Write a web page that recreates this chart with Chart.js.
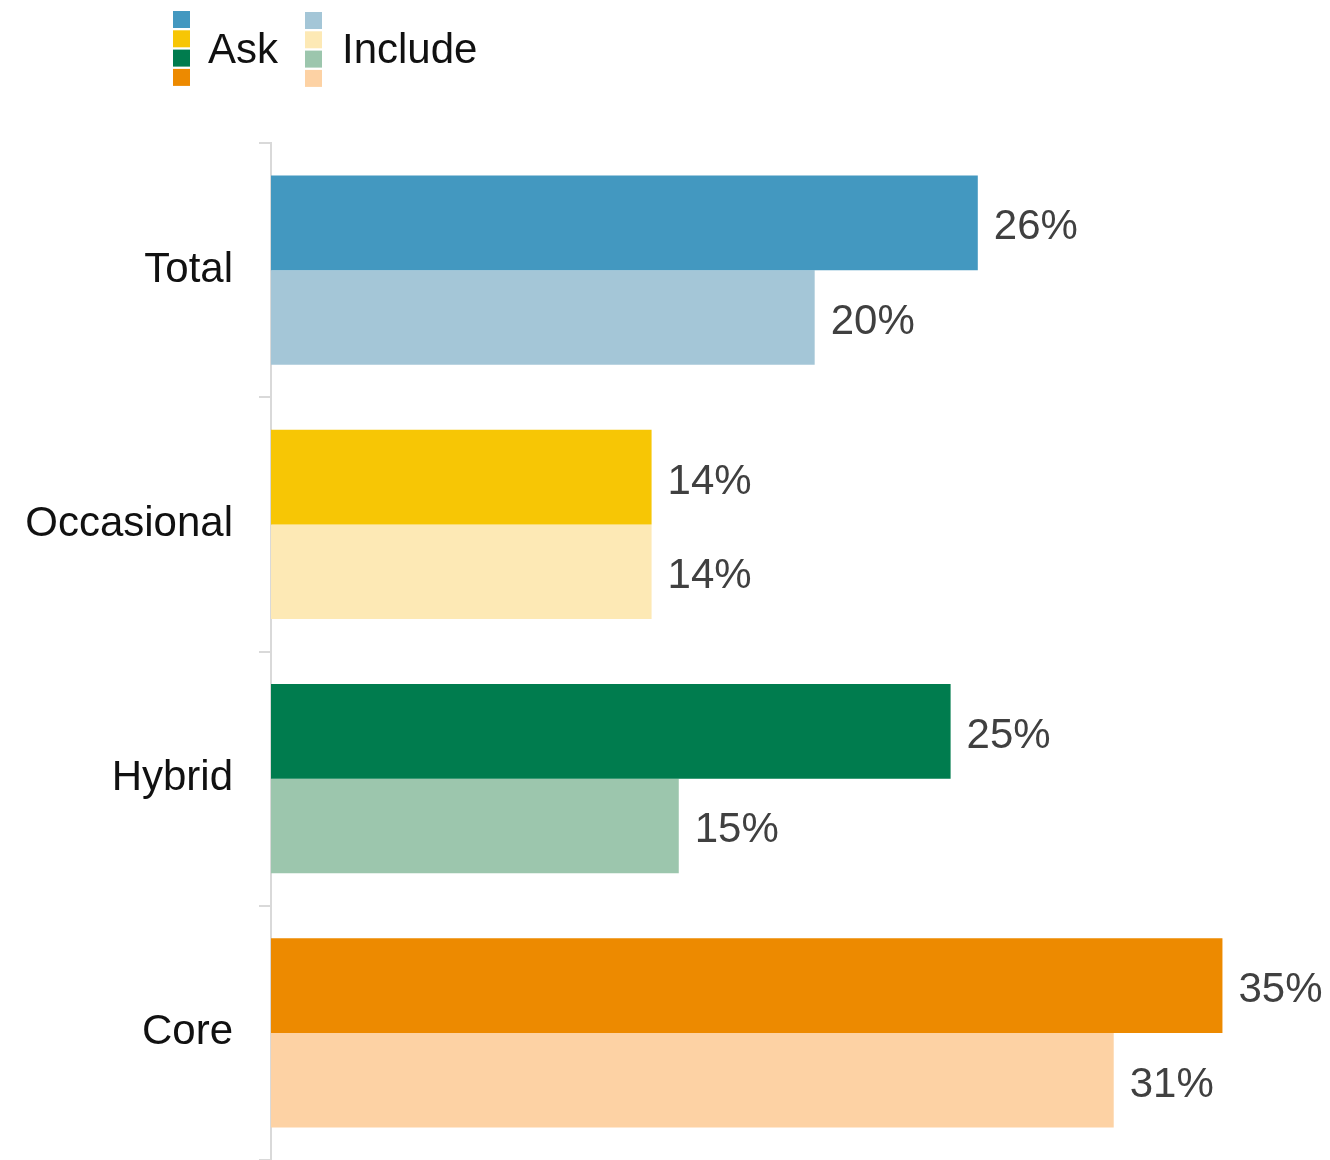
<!DOCTYPE html>
<html>
<head>
<meta charset="utf-8">
<script src="https://cdn.jsdelivr.net/npm/chart.js@4.4.0/dist/chart.umd.min.js"></script>
<style>
  html, body { margin: 0; padding: 0; background: #fff; }
  canvas { display: block; }
</style>
</head>
<body>
<canvas id="chart" width="1330" height="1160"></canvas>
<script>
// Segments and shares per question
const categories = ['Total', 'Occasional', 'Hybrid', 'Core'];
const askValues = [26, 14, 25, 35];
const includeValues = [20, 14, 15, 31];
const seriesNames = ['Ask', 'Include'];

// One colour per segment, darker for Ask, pale for Include
const askColors = ['#4398c0', '#f7c605', '#007c4e', '#ed8a00'];
const includeColors = ['#a4c6d7', '#fde9b5', '#9cc6ad', '#fdd2a4'];

const FONT = '"Liberation Sans", Arial, sans-serif';

// Labels at the end of each bar
const valueLabels = {
    id: 'valueLabels',
    afterDatasetsDraw(chart) {
        const ctx = chart.ctx;
        ctx.save();
        ctx.font = '42px ' + FONT;
        ctx.fillStyle = '#404040';
        ctx.textAlign = 'left';
        ctx.textBaseline = 'middle';
        chart.data.datasets.forEach((ds, di) => {
            chart.getDatasetMeta(di).data.forEach((bar, i) => {
                ctx.fillText(ds.data[i] + '%', bar.x + 16, bar.y + 5);
            });
        });
        ctx.restore();
    }
};

// Legend: a column of swatches per series followed by its name
const stackedLegend = {
    id: 'stackedLegend',
    afterDraw(chart) {
        const ctx = chart.ctx;
        const groups = [
            { x: 173, y: 11, colors: askColors, text: seriesNames[0], tx: 208 },
            { x: 305, y: 12, colors: includeColors, text: seriesNames[1], tx: 342 }
        ];
        ctx.save();
        groups.forEach(g => {
            g.colors.forEach((c, i) => {
                ctx.fillStyle = c;
                ctx.fillRect(g.x, g.y + i * 19.3, 17, 17);
            });
            ctx.font = '42px ' + FONT;
            ctx.fillStyle = '#111';
            ctx.textBaseline = 'middle';
            ctx.fillText(g.text, g.tx, 51);
        });
        ctx.restore();
    }
};

new Chart(document.getElementById('chart'), {
    type: 'bar',
    data: {
        labels: categories,
        datasets: [{
            label: seriesNames[0],
            data: askValues,
            backgroundColor: askColors
        }, {
            label: seriesNames[1],
            data: includeValues,
            backgroundColor: includeColors
        }]
    },
    options: {
        indexAxis: 'y',
        responsive: false,
        animation: false,
        layout: { padding: { top: 143, right: 26, bottom: 0, left: 0 } },
        datasets: {
            bar: { categoryPercentage: 0.744, barPercentage: 1.0, borderWidth: 0 }
        },
        plugins: {
            legend: { display: false },
            tooltip: { enabled: false }
        },
        scales: {
            x: {
                display: false,
                min: 0,
                max: 38
            },
            y: {
                afterFit(scale) {
                    // let the axis run to the bottom edge of the canvas
                    scale.width = 271;
                    scale.paddingTop = 0;
                    scale.paddingBottom = 0;
                },
                grid: {
                    offset: true,
                    drawOnChartArea: false,
                    tickLength: 12,
                    color: '#d9d9d9',
                    lineWidth: 2
                },
                border: { color: '#d9d9d9', width: 2 },
                ticks: {
                    color: '#111',
                    font: { family: FONT, size: 42 },
                    padding: 26
                }
            }
        }
    },
    plugins: [valueLabels, stackedLegend]
});
</script>
</body>
</html>
